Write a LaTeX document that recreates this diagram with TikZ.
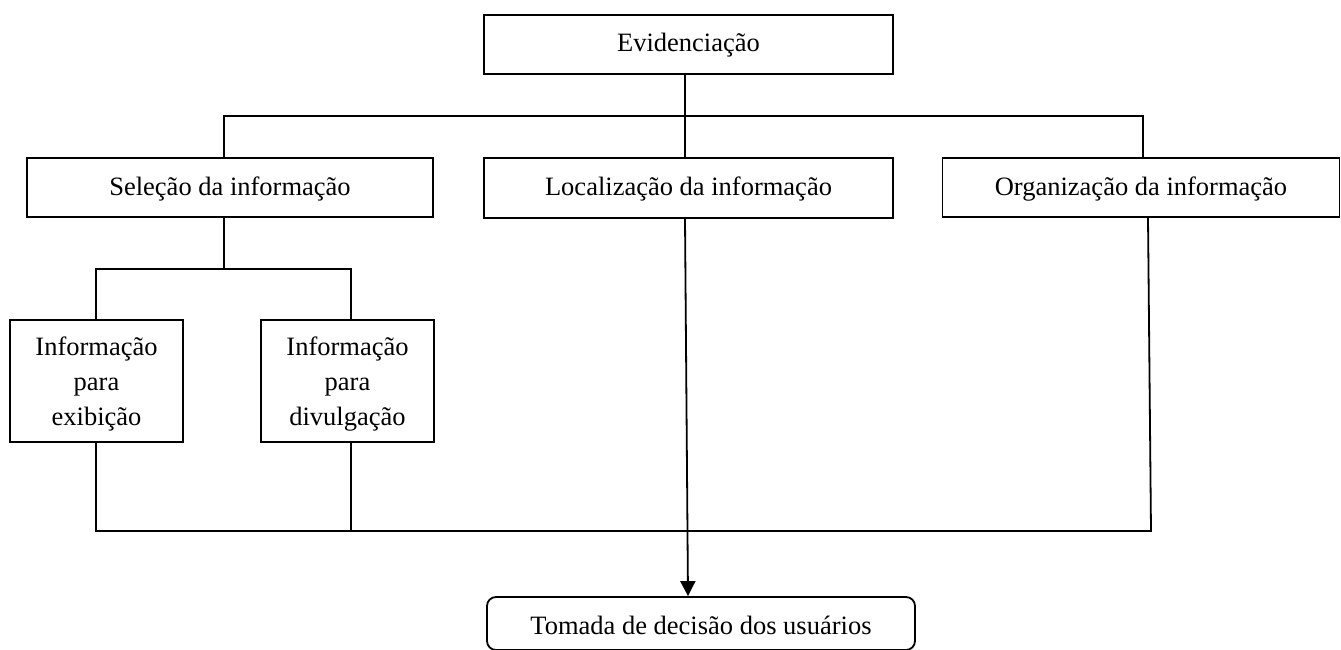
\documentclass[tikz,border=0pt]{standalone}
\usepackage{fontspec}
\setmainfont{Liberation Serif}
\usetikzlibrary{arrows.meta}
\begin{document}
\begin{tikzpicture}[x=1pt,y=-1pt,
  line width=1.8pt,
  every node/.style={font=\fontsize{26.5}{35}\selectfont},
  box/.style={draw, line width=1.8pt, inner sep=0pt, text height=18pt, text depth=3pt},
  tallbox/.style={draw, line width=1.8pt, inner sep=0pt, align=center, text depth=0pt},
  rbox/.style={draw, line width=1.8pt, inner sep=0pt, rounded corners=9pt, text height=21pt, text depth=0pt},
  conn/.style={line width=1.8pt},
  arr/.style={line width=1.8pt, -{Triangle[width=15pt,length=15pt]}}
]
\useasboundingbox (0,0) rectangle (1341,650);

\node[box, minimum width=409pt, minimum height=59pt] (ev) at (688.5,44.5) {Evidenciação};
\node[box, minimum width=406pt, minimum height=59pt] (sel) at (230,187.5) {Seleção da informação};
\node[box, minimum width=409pt, minimum height=60pt] (loc) at (688.5,188) {Localização da informação};
\node[box, minimum width=397pt, minimum height=59pt] (org) at (1141,187.5) {Organização da informação};
\node[tallbox, minimum width=173pt, minimum height=122pt] (exi) at (96.5,381) {Informação\\para\\exibição};
\node[tallbox, minimum width=173pt, minimum height=122pt] (div) at (347.5,381) {Informação\\para\\divulgação};
\node[rbox, minimum width=428pt, minimum height=53pt] (tom) at (701,623.5) {Tomada de decisão dos usuários};

% top bus
\coordinate (j1) at (685,116);
\coordinate (b1L) at (224,116);
\coordinate (b1R) at (1143,116);
\draw[conn] (j1 |- ev.south) -- (j1 |- loc.north);
\draw[conn] (b1L |- sel.north) -- (b1L) -- (b1R) -- (b1R |- org.north);

% second bus
\coordinate (j2) at (224,269);
\coordinate (b2L) at (96,269);
\coordinate (b2R) at (351,269);
\draw[conn] (j2 |- sel.south) -- (j2);
\draw[conn] (b2L |- exi.north) -- (b2L) -- (b2R) -- (b2R |- div.north);

% bottom bus
\coordinate (b3L) at (96,531);
\coordinate (b3M) at (351,531);
\coordinate (b3R) at (1151,531);
\coordinate (o1) at (1148,217);
\draw[conn] (b3L |- exi.south) -- (b3L) -- (b3R) -- (o1 |- org.south);
\draw[conn] (b3M |- div.south) -- (b3M);

% arrow
\coordinate (l1) at (685,218);
\coordinate (t1) at (688,598);
\draw[arr] (l1 |- loc.south) -- (t1 |- tom.north);
\end{tikzpicture}
\end{document}
